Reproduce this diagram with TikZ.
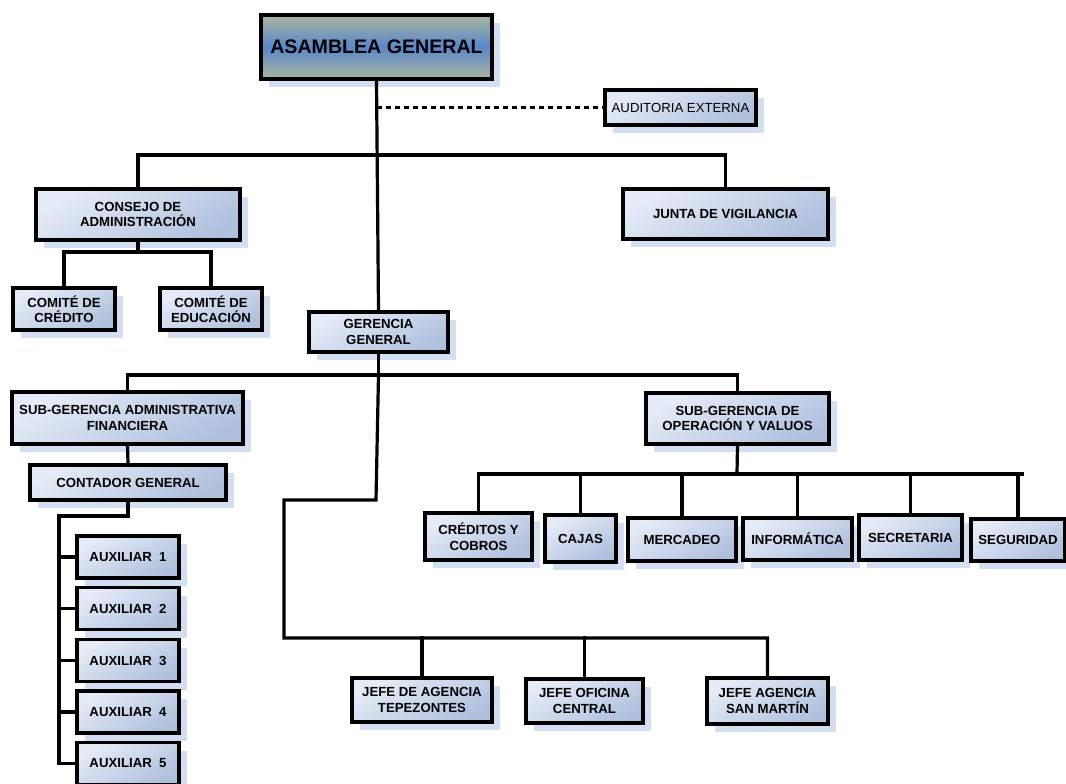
\documentclass[tikz,border=0pt]{standalone}
\usepackage{fontspec}
\setmainfont{Liberation Sans}
\usetikzlibrary{shadows}
\definecolor{boxtop}{HTML}{E6ECF7}
\definecolor{boxbot}{HTML}{AFC0DD}
\definecolor{headedge}{HTML}{A9B79E}
\definecolor{headmid}{HTML}{5A87CB}
\definecolor{shadowblue}{HTML}{D3DEF2}
\tikzset{
  orgbox/.style={draw=black, line width=3.4pt, inner sep=0pt, align=center,
    top color=boxtop, bottom color=boxbot, shading angle=30,
    font=\fontsize{13.2}{15.5}\selectfont\bfseries,
    drop shadow={fill=shadowblue, opacity=1, shadow xshift=8pt, shadow yshift=-8pt}},
  headbox/.style={orgbox, top color=headedge, bottom color=headedge, middle color=headmid,
    shading angle=0, font=\fontsize{19.6}{22}\selectfont\bfseries},
  plainbox/.style={orgbox, font=\fontsize{13.2}{15}\selectfont},
  link/.style={draw=black, line width=3.2pt, line cap=rect},
  dashlink/.style={draw=black, line width=3.2pt, dash pattern=on 5pt off 4pt}
}
\begin{document}
\begin{tikzpicture}[x=1pt, y=-1pt]
\useasboundingbox (0,0) rectangle (1066,784);
\fill[white] (0,0) rectangle (1066,784);
\clip (0,0) rectangle (1066,784);

% top level
\node[headbox, minimum width=231pt, minimum height=64pt] (asam) at (376.5,47) {ASAMBLEA GENERAL};
\node[plainbox, minimum width=151pt, minimum height=35pt] (audit) at (680.5,107.5) {AUDITORIA EXTERNA};

% boards
\node[orgbox, minimum width=204pt, minimum height=51pt] (consejo) at (138,214.5) {CONSEJO DE\\ADMINISTRACIÓN};
\node[orgbox, minimum width=205pt, minimum height=50pt] (junta) at (725.5,214) {JUNTA DE VIGILANCIA};
\node[orgbox, minimum width=102pt, minimum height=42pt] (comcred) at (64,309) {COMITÉ DE\\CRÉDITO};
\node[orgbox, minimum width=102pt, minimum height=42pt] (comedu) at (211,309) {COMITÉ DE\\EDUCACIÓN};

% management
\node[orgbox, minimum width=139pt, minimum height=40pt] (geren) at (378.5,332) {GERENCIA\\GENERAL};
\node[orgbox, minimum width=231pt, minimum height=52pt] (subadm) at (127.5,418) {SUB-GERENCIA ADMINISTRATIVA\\FINANCIERA};
\node[orgbox, minimum width=196pt, minimum height=35pt] (contador) at (128,482.5) {CONTADOR GENERAL};
\node[orgbox, minimum width=183pt, minimum height=51pt] (subop) at (737.5,418.5) {SUB-GERENCIA DE\\OPERACIÓN Y VALUOS};

% assistants
\foreach \i/\y in {1/557, 2/608.5, 3/660.5, 4/712, 5/763.5}
  \node[orgbox, minimum width=102pt, minimum height=42pt] (aux\i) at (128,\y) {AUXILIAR\ \ \i};

% operations units
\node[orgbox, minimum width=107pt, minimum height=47pt] (cred) at (478.5,536.5) {CRÉDITOS Y\\COBROS};
\node[orgbox, minimum width=71pt, minimum height=47pt] (cajas) at (580.5,538.5) {CAJAS};
\node[orgbox, minimum width=108pt, minimum height=43pt] (merc) at (682,539.5) {MERCADEO};
\node[orgbox, minimum width=109pt, minimum height=42pt] (info) at (797.5,539) {INFORMÁTICA};
\node[orgbox, minimum width=103pt, minimum height=45pt] (secr) at (910.5,537.5) {SECRETARIA};
\node[orgbox, minimum width=94pt, minimum height=42pt] (segu) at (1018,540) {SEGURIDAD};

% agencies
\node[orgbox, minimum width=140pt, minimum height=44pt] (tepe) at (422,700) {JEFE DE AGENCIA\\TEPEZONTES};
\node[orgbox, minimum width=117pt, minimum height=44pt] (ofic) at (584.5,701) {JEFE OFICINA\\CENTRAL};
\node[orgbox, minimum width=121pt, minimum height=46pt] (smart) at (767.5,701) {JEFE AGENCIA\\SAN MARTÍN};

% bus levels
\coordinate (b1) at (376.5,155);
\coordinate (b2) at (137,252);
\coordinate (b3) at (377,375);
\coordinate (b4) at (737,474);
\coordinate (b5) at (284,638);
\coordinate (t1) at (376,500);
\coordinate (t2) at (284,500);
\coordinate (sp) at (59,516);
\coordinate (dj) at (376.5,107.5);

% connectors
\draw[link] (asam.south) -- (geren.north);
\draw[dashlink] (dj) -- (audit.west);
\draw[link] (consejo.north) -- (consejo.north |- b1) -- (junta.north |- b1) -- (junta.north);
\draw[link] (consejo.south) -- (consejo.south |- b2);
\draw[link] (comcred.north) -- (comcred.north |- b2) -- (comedu.north |- b2) -- (comedu.north);
\draw[link] (geren.south) -- (geren.south |- b3);
\draw[link] (subadm.north) -- (subadm.north |- b3) -- (subop.north |- b3) -- (subop.north);
\draw[link] (geren.south |- b3) -- (t1) -- (t2) -- (b5) -- (smart.north |- b5) -- (smart.north);
\draw[link] (tepe.north) -- (tepe.north |- b5);
\draw[link] (ofic.north) -- (ofic.north |- b5);
\draw[link] (subadm.south) -- (contador.north);
\draw[link] (contador.south) -- (contador.south |- sp) -- (sp) -- (sp |- aux5.west) -- (aux5.west);
\foreach \i in {1,2,3,4}
  \draw[link] (sp |- aux\i.west) -- (aux\i.west);
\draw[link] (subop.south) -- (b4);
\draw[link] (cred.north) -- (cred.north |- b4) -- ([xshift=4pt]segu.north |- b4);
\foreach \n in {cajas, merc, info, secr, segu}
  \draw[link] (\n.north) -- (\n.north |- b4);
\end{tikzpicture}
\end{document}
